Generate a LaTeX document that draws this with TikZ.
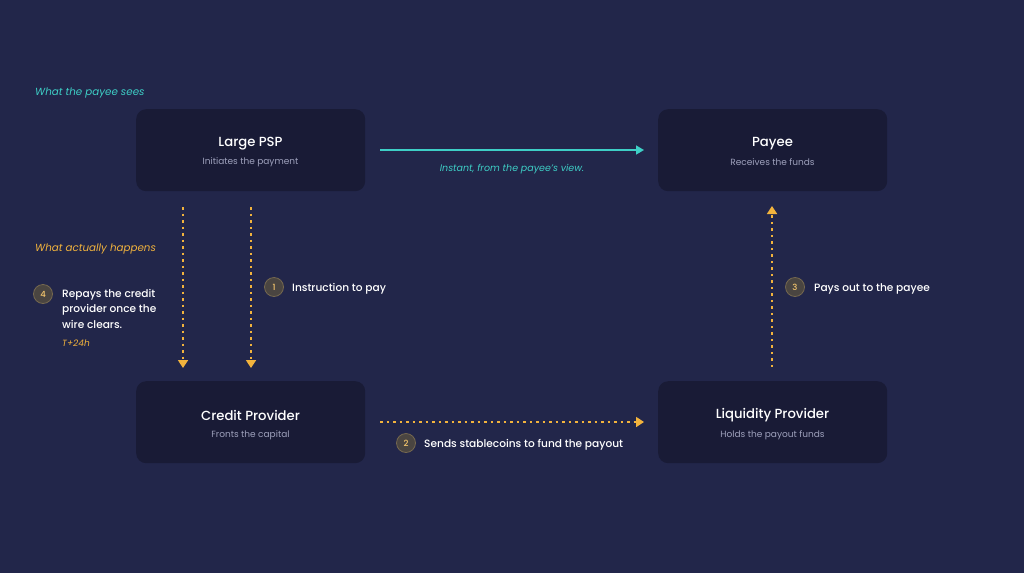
\documentclass[tikz,border=0pt]{standalone}
\usepackage{fontspec}
\setmainfont{Poppins}
\newfontfamily\medf{Poppins Medium}
\usetikzlibrary{arrows.meta}
\definecolor{bgc}{HTML}{22264A}
\definecolor{boxc}{HTML}{191B36}
\definecolor{tealc}{HTML}{3ECFC6}
\definecolor{orc}{HTML}{F2B33D}
\definecolor{subc}{HTML}{9EA1BC}
\definecolor{circf}{HTML}{4A4541}
\definecolor{circd}{HTML}{75684F}
\tikzset{
  x=1pt,y=-1pt,
  card/.style={fill=boxc,rounded corners=10pt,minimum width=229pt,minimum height=82pt,anchor=north west},
  ttl/.style={text=white,font=\medf\fontsize{13.2}{15}\selectfont},
  sub/.style={text=subc,font=\fontsize{9}{10}\selectfont},
  flow/.style={orc,line width=1.7pt,dash pattern=on 2.5pt off 4pt,-{Triangle[length=8pt,width=10pt]}},
  fast/.style={tealc,line width=1.6pt,-{Triangle[length=8pt,width=9pt]}},
  num/.style={circle,fill=circf,draw=circd,line width=0.8pt,minimum size=19pt,inner sep=0pt,text=orc!75!white,font=\medf\fontsize{8.5}{9}\selectfont},
  lbl/.style={text=white,font=\medf\fontsize{10.6}{15.5}\selectfont,anchor=west,inner sep=0pt},
  ital/.style={font=\fontsize{9.5}{11}\selectfont\itshape,inner sep=0pt}
}
\begin{document}
\begin{tikzpicture}
\fill[bgc] (0,0) rectangle (1024,573);
\useasboundingbox (0,0) rectangle (1024,573);

\node[card] (psp) at (136,109) {};
\node[ttl] at (250.5,143.5) {Large PSP};
\node[sub] at (250.5,162) {Initiates the payment};

\node[card] (payee) at (658,109) {};
\node[ttl] at (772.5,143.5) {Payee};
\node[sub] at (772.5,162) {Receives the funds};

\node[card] (credit) at (136,381) {};
\node[ttl] at (250.5,415) {Credit Provider};
\node[sub] at (250.5,435) {Fronts the capital};

\node[card] (liq) at (658,381) {};
\node[ttl] at (772.5,415) {Liquidity Provider};
\node[sub] at (772.5,435) {Holds the payout funds};

\node[ital,text=tealc,anchor=west,font=\fontsize{10.3}{12}\selectfont\itshape] (seen) at (35,93) {What the payee sees};
\node[ital,text=orc,anchor=west,font=\fontsize{10.3}{12}\selectfont\itshape] (actual) at (35,249) {What actually happens};

\coordinate (a1) at (380,150);
\coordinate (a2) at (644,150);
\draw[fast] (a1) -- (a2);
\node[ital,text=tealc] (inst) at (512,169) {Instant, from the payee's view.};

\coordinate (p4a) at (183,207);
\coordinate (p4b) at (183,368);
\draw[flow] (p4a) -- (p4b);
\coordinate (p1a) at (251,207);
\coordinate (p1b) at (251,368);
\draw[flow] (p1a) -- (p1b);
\coordinate (p3a) at (772,367);
\coordinate (p3b) at (772,206);
\draw[flow] (p3a) -- (p3b);
\coordinate (p2a) at (380,422);
\coordinate (p2b) at (644,422);
\draw[flow] (p2a) -- (p2b);

\node[num] (n1) at (274,287) {1};
\node[lbl] (l1) at (292,289) {Instruction to pay};
\node[num] (n3) at (795,287) {3};
\node[lbl] (l3) at (814,289) {Pays out to the payee};
\node[num] (n2) at (406,443) {2};
\node[lbl] (l2) at (424,445) {Sends stablecoins to fund the payout};
\node[num] (n4) at (43,294) {4};
\node[lbl,anchor=north west,align=left] (l4) at (62,289) {Repays the credit\\provider once the\\wire clears.};
\node[ital,text=orc,anchor=west,font=\fontsize{9}{10}\selectfont\itshape] (t24) at (62,343) {T+24h};
\end{tikzpicture}
\end{document}
